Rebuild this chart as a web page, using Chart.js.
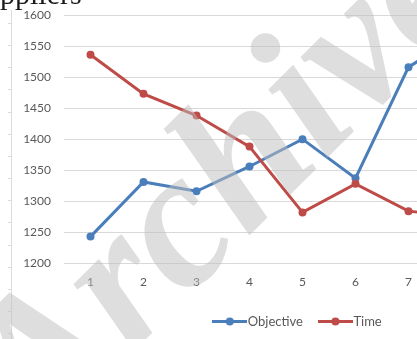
<!DOCTYPE html>
<html>
<head>
<meta charset="utf-8">
<script src="https://cdn.jsdelivr.net/npm/chart.js@4.4.1/dist/chart.umd.min.js"></script>
<style>
  html, body { margin: 0; padding: 0; background: #fff; overflow: hidden; }
  #wrap { position: absolute; left: 0; top: 0; width: 600px; height: 339px; }
</style>
</head>
<body>
<div id="wrap"><canvas id="c" width="600" height="339" style="width:600px;height:339px"></canvas></div>
<script>
// Supplier rounds, objective score and time per round
const rounds = ['1', '2', '3', '4', '5', '6', '7', '8'];
const objective = [1243, 1331, 1316, 1356, 1400, 1337, 1516, 1570];
const time = [1536, 1473, 1438, 1388, 1282, 1328, 1284, 1275];
const yTicks = { min: 1200, max: 1600, step: 50 };
const seriesNames = ['Objective', 'Time'];
const chartTitle = 'Suppliers';
const watermarkText = 'Archive';

const BLUE = '#4a7ebb';
const RED = '#be4b48';
const TEXT = '#595959';
const GRID = '#d9d9d9';

// Line-with-dot swatch used as the legend marker
function swatch(color) {
  const c = document.createElement('canvas');
  c.width = 35; c.height = 9;
  const g = c.getContext('2d');
  g.strokeStyle = color; g.lineWidth = 3;
  g.beginPath(); g.moveTo(0, 4.5); g.lineTo(35, 4.5); g.stroke();
  g.fillStyle = color;
  g.beginPath(); g.arc(17.5, 4.5, 4, 0, Math.PI * 2); g.fill();
  return c;
}
const swatches = [swatch(BLUE), swatch(RED)];

// Page decorations: left ruler, heading and watermark
const decorations = {
  id: 'decorations',
  beforeDraw(chart) {
    const g = chart.ctx;
    g.save();
    g.strokeStyle = '#dcdcdc';
    g.lineWidth = 1;
    g.beginPath();
    g.moveTo(11.5, 10); g.lineTo(11.5, 339);
    for (let y = 22.7; y < 339; y += 22.2) {
      g.moveTo(8, Math.round(y) + 0.5); g.lineTo(11.5, Math.round(y) + 0.5);
    }
    g.stroke();
    g.font = '30px "Liberation Serif"';
    g.fillStyle = '#1a1a1a';
    g.textBaseline = 'alphabetic';
    const cut = g.measureText('Su').width;
    g.fillText(chartTitle, -cut, 4);
    g.restore();
  },
  afterDraw(chart) {
    const g = chart.ctx;
    g.save();
    g.translate(262, 223);
    g.rotate(-45 * Math.PI / 180);
    g.font = 'italic bold 196px "Liberation Serif"';
    g.fillStyle = 'rgba(190,190,190,0.5)';
    g.textAlign = 'center';
    g.textBaseline = 'alphabetic';
    g.fillText(watermarkText, 0, 0);
    g.restore();
  }
};

const tickFont = { family: 'Lato', size: 12 };
const legendFont = { family: 'Lato', size: 13 };

new Chart(document.getElementById('c'), {
  type: 'line',
  data: {
    labels: rounds,
    datasets: [
      { label: seriesNames[0], data: objective, borderColor: BLUE, backgroundColor: BLUE,
        borderWidth: 3, pointRadius: 4, pointHoverRadius: 4, pointBorderWidth: 0, tension: 0, order: 2 },
      { label: seriesNames[1], data: time, borderColor: RED, backgroundColor: RED,
        borderWidth: 3, pointRadius: 4, pointHoverRadius: 4, pointBorderWidth: 0, tension: 0, order: 1 }
    ]
  },
  options: {
    responsive: false,
    animation: false,
    devicePixelRatio: 1,
    clip: false,
    layout: { padding: { top: 15, right: 0, bottom: 2, left: 0 } },
    plugins: {
      tooltip: { enabled: false },
      title: { display: false },
      legend: {
        position: 'bottom',
        maxHeight: 43,
        labels: {
          usePointStyle: true,
          pointStyleWidth: 23,
          padding: 21,
          color: TEXT,
          font: legendFont,
          generateLabels(chart) {
            return chart.data.datasets.map((ds, i) => ({
              text: ds.label,
              pointStyle: swatches[i],
              fillStyle: ds.borderColor,
              strokeStyle: ds.borderColor,
              lineWidth: 0,
              fontColor: TEXT,
              hidden: false,
              datasetIndex: i
            }));
          }
        }
      }
    },
    scales: {
      x: {
        offset: true,
        grid: { display: false },
        border: { display: false },
        ticks: { color: TEXT, font: tickFont, padding: 4, maxRotation: 0 },
        afterFit(s) { s.height = 30.7; }
      },
      y: {
        min: yTicks.min,
        max: yTicks.max,
        ticks: {
          stepSize: yTicks.step, color: TEXT, font: tickFont, padding: 0,
          callback: (v) => String(v)
        },
        grid: { color: GRID, lineWidth: 1, drawTicks: true, tickLength: 13, tickColor: 'rgba(0,0,0,0)' },
        border: { display: false },
        afterFit(s) { s.width = 64; }
      },
      spare: {
        position: 'right',
        display: true,
        ticks: { display: false },
        grid: { display: false, drawTicks: false },
        border: { display: false },
        afterFit(s) { s.width = 112; }
      }
    }
  },
  plugins: [decorations]
});
</script>
</body>
</html>
